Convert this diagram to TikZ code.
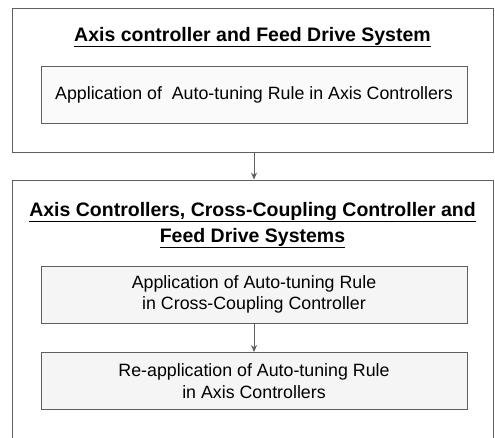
\documentclass[tikz,border=0pt]{standalone}
\usepackage{fontspec}
\setmainfont{Liberation Sans}
\usetikzlibrary{arrows.meta}
\definecolor{edge}{RGB}{95,95,95}
\tikzset{
  x=1pt, y=1pt,
  outerbox/.style={draw=edge, line width=0.9pt, rectangle, minimum width=481pt, inner sep=0pt},
  innerbox/.style={draw=edge, line width=0.9pt, fill=black!4, rectangle, minimum width=426pt, minimum height=57pt, inner sep=0pt, align=center, font=\fontsize{17.8}{21.5}\selectfont},
  titletext/.style={font=\bfseries\fontsize{19.5}{26}\selectfont, align=center, inner sep=0pt},
  arr/.style={draw=edge, line width=0.9pt, -{Stealth[length=7pt, width=6pt]}}
}
\begin{document}
\begin{tikzpicture}
\useasboundingbox (0,0) rectangle (495,437);
\clip (0,0) rectangle (495,437);
\node[outerbox, minimum height=144pt] (box1) at (252.5,357) {};
\node[outerbox, minimum height=290pt] (box2) at (252.5,112) {};
\node[titletext] (t1) at (252.5,400) {\underline{Axis controller and Feed Drive System}};
\node[innerbox, fill=black!2] (in1) at (254,342.5) {Application of \ Auto-tuning Rule in Axis Controllers};
\node[titletext] (t2) at (252.5,212) {\underline{Axis Controllers, Cross-Coupling Controller and}\\\underline{Feed Drive Systems}};
\node[innerbox] (in2) at (254,142.5) {Application of Auto-tuning Rule\\in Cross-Coupling Controller};
\node[innerbox] (in3) at (254,56) {Re-application of Auto-tuning Rule\\in Axis Controllers};
\draw[arr] (box1.south -| in1.center) -- (box2.north -| in1.center);
\draw[arr] (in2.south) -- (in3.north);
\end{tikzpicture}
\end{document}
